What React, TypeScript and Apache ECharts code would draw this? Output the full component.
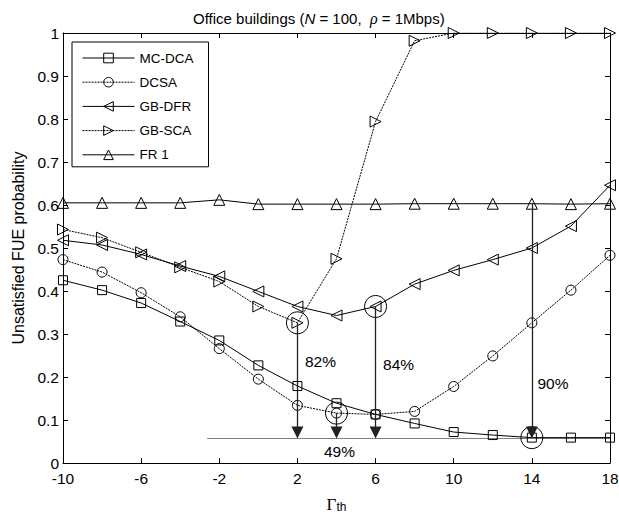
import React, { useEffect, useRef } from 'react';
import * as echarts from 'echarts';

const gammaTh = [-10, -8, -6, -4, -2, 0, 2, 4, 6, 8, 10, 12, 14, 16, 18];
const mcDca = [0.425, 0.402, 0.372, 0.329, 0.285, 0.227, 0.179, 0.139, 0.113, 0.092, 0.072, 0.065, 0.059, 0.059, 0.059];
const dcsa = [0.473, 0.444, 0.396, 0.34, 0.266, 0.195, 0.134, 0.116, 0.113, 0.12, 0.178, 0.249, 0.326, 0.402, 0.483];
const gbDfr = [0.518, 0.507, 0.485, 0.458, 0.434, 0.399, 0.364, 0.343, 0.364, 0.416, 0.448, 0.473, 0.5, 0.551, 0.646];
const gbSca = [0.543, 0.524, 0.49, 0.455, 0.422, 0.364, 0.326, 0.475, 0.794, 0.982, 1, 1, 1, 1, 1];
const fr1 = [0.605, 0.605, 0.605, 0.605, 0.612, 0.602, 0.602, 0.602, 0.602, 0.603, 0.603, 0.603, 0.603, 0.602, 0.603];

const xTicks = [-10, 18, 4];
const yTicks = [0, 1, 0.1];

const highlightX = [2, 4, 6, 14];
const highlightY = [0.326, 0.116, 0.364, 0.059];

const arrowX = [2, 4, 6, 14];
const arrowTopY = [0.326, 0.116, 0.364, 0.605];
const arrowBottomY = 0.071;

const baselineY = 0.057;
const baselineX = [-2.6, 18];

const pctLabels = ['82%', '84%', '90%', '49%'];
const pctX = [3.18, 7.18, 15.08, 4.15];
const pctY = [0.235, 0.228, 0.186, 0.026];

const FONT = 'Liberation Sans, Arial, sans-serif';

function lineSeries(name: string, values: number[], symbol: string, size: number, rotate: number, dotted: boolean) {
  return {
    type: 'line',
    name,
    data: gammaTh.map((x, i) => [x, values[i]]),
    symbol,
    symbolSize: size,
    symbolRotate: rotate,
    showAllSymbol: true,
    lineStyle: { color: '#000', width: 1, type: dotted ? [2, 1] : 'solid' },
    itemStyle: { color: 'rgba(255,255,255,0)', borderColor: '#000', borderWidth: 1 },
    emphasis: { disabled: true },
    z: 3,
  };
}

export default function App() {
  const ref = useRef<HTMLDivElement>(null);
  useEffect(() => {
    if (!ref.current) return;
    const chart = echarts.init(ref.current, undefined, { renderer: 'svg' });
    const axisCommon = {
      type: 'value',
      axisLine: { show: true, onZero: false, lineStyle: { color: '#000', width: 1 } },
      axisTick: { show: true, inside: true, length: 5, lineStyle: { color: '#000' } },
      splitLine: { show: false },
    };
    chart.setOption({
      animation: false,
      backgroundColor: '#fff',
      title: {
        text: 'Office buildings ({i|N} = 100,  {g|ρ} = 1Mbps)',
        left: 188,
        top: 5,
        textStyle: {
          fontFamily: FONT,
          fontSize: 15,
          fontWeight: 'normal',
          color: '#000',
          rich: {
            i: { fontFamily: FONT, fontSize: 15, fontStyle: 'italic', color: '#000' },
            g: { fontFamily: 'Liberation Serif, serif', fontSize: 16, fontStyle: 'italic', color: '#000' },
          },
        },
      },
      legend: {
        orient: 'vertical',
        left: 72,
        top: 42,
        padding: [9, 15, 5, 10],
        itemWidth: 52,
        itemHeight: 12,
        itemGap: 10.2,
        borderColor: '#000',
        borderWidth: 1,
        backgroundColor: '#fff',
        lineStyle: { width: 1 },
        itemStyle: { borderWidth: 1 },
        textStyle: { fontFamily: FONT, fontSize: 13.5, color: '#000' },
        data: ['MC-DCA', 'DCSA', 'GB-DFR', 'GB-SCA', 'FR 1'],
      },
      grid: { left: 63, right: 9, top: 33, bottom: 53, containLabel: false, outerBoundsMode: 'none' },
      xAxis: [
        {
          ...axisCommon,
          position: 'bottom',
          min: xTicks[0],
          max: xTicks[1],
          interval: xTicks[2],
          axisLabel: { fontFamily: FONT, fontSize: 15.5, color: '#000', margin: 7 },
          name: '{g|Γ}{s|th}',
          nameLocation: 'middle',
          nameGap: 33,
          nameTextStyle: {
            color: '#000',
            rich: {
              g: { fontFamily: 'Liberation Serif, serif', fontSize: 17, color: '#000', lineHeight: 17, verticalAlign: 'top' },
              s: { fontFamily: FONT, fontSize: 12, color: '#000', lineHeight: 12, verticalAlign: 'bottom', padding: [5, 0, 0, 0] },
            },
          },
        },
        {
          ...axisCommon,
          position: 'top',
          min: xTicks[0],
          max: xTicks[1],
          interval: xTicks[2],
          axisLabel: { show: false },
        },
      ],
      yAxis: [
        {
          ...axisCommon,
          position: 'left',
          min: yTicks[0],
          max: yTicks[1],
          interval: yTicks[2],
          axisLabel: { fontFamily: FONT, fontSize: 15.5, color: '#000', margin: 4 },
          name: 'Unsatisfied FUE probability',
          nameLocation: 'middle',
          nameGap: 37,
          nameTextStyle: { fontFamily: FONT, fontSize: 16, color: '#000' },
        },
        {
          ...axisCommon,
          position: 'right',
          min: yTicks[0],
          max: yTicks[1],
          interval: yTicks[2],
          axisLabel: { show: false },
        },
      ],
      series: [
        lineSeries('MC-DCA', mcDca, 'rect', 9, 0, false),
        lineSeries('DCSA', dcsa, 'circle', 10, 0, true),
        lineSeries('GB-DFR', gbDfr, 'triangle', 11, 90, false),
        lineSeries('GB-SCA', gbSca, 'triangle', 11, -90, true),
        lineSeries('FR 1', fr1, 'triangle', 11, 0, false),
        {
          type: 'scatter',
          name: 'highlight',
          data: highlightX.map((x, i) => [x, highlightY[i]]),
          symbol: 'circle',
          symbolSize: 22,
          itemStyle: { color: 'rgba(255,255,255,0)', borderColor: '#000', borderWidth: 1, opacity: 1 },
          emphasis: { disabled: true },
          silent: true,
          z: 4,
        },
        {
          type: 'line',
          name: 'annot',
          data: [],
          silent: true,
          markLine: {
            silent: true,
            animation: false,
            label: { show: false },
            emphasis: { disabled: true },
            data: [
              ...arrowX.map((x, i) => [
                { coord: [x, arrowTopY[i]], symbol: 'none', lineStyle: { color: '#222', width: 1.3, type: 'solid' } },
                { coord: [x, arrowBottomY], symbol: 'triangle', symbolSize: [12, 12] },
              ]),
              [
                { coord: [baselineX[0], baselineY], symbol: 'none', lineStyle: { color: '#000', width: 1, type: 'dotted' } },
                { coord: [baselineX[1], baselineY], symbol: 'none' },
              ],
            ],
            itemStyle: { color: '#000' },
          },
          z: 2,
        },
        {
          type: 'scatter',
          name: 'pct',
          data: pctX.map((x, i) => [x, pctY[i], pctLabels[i]]),
          symbolSize: 0,
          silent: true,
          itemStyle: { color: '#000', opacity: 1 },
          label: {
            show: true,
            position: 'inside',
            formatter: (p: any) => p.data[2],
            fontFamily: FONT,
            fontSize: 15.5,
            color: '#000',
            opacity: 1,
            textBorderWidth: 0,
            textBorderColor: 'transparent',
          },
          z: 5,
        },
      ],
    });
    return () => chart.dispose();
  }, []);
  return <div ref={ref} style={{ position: 'fixed', left: 0, top: 0, width: 619, height: 516 }} />;
}
